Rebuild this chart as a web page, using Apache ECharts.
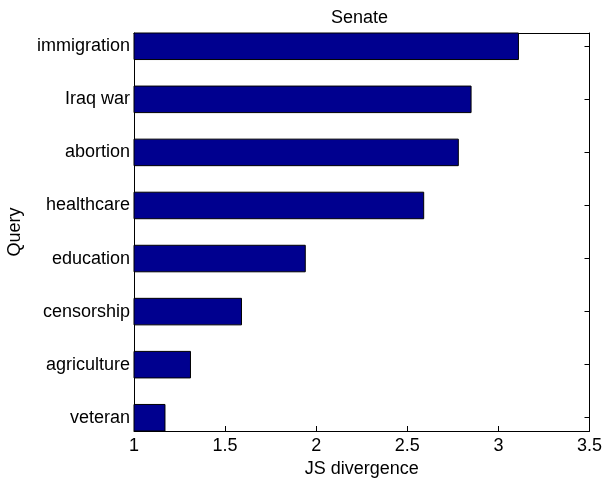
<!DOCTYPE html>
<html>
<head>
<meta charset="utf-8">
<script src="https://cdn.jsdelivr.net/npm/echarts@6/dist/echarts.min.js"></script>
<style>
html,body{margin:0;padding:0;background:#fff;}
#chart{width:604px;height:479px;}
</style>
</head>
<body>
<div id="chart"></div>
<script>
// Categories listed top to bottom
const categories = ['immigration', 'Iraq war', 'abortion', 'healthcare', 'education', 'censorship', 'agriculture', 'veteran'];
const values = [3.11, 2.85, 2.78, 2.59, 1.94, 1.59, 1.31, 1.17];
const xTicks = [1, 1.5, 2, 2.5, 3, 3.5];

const n = categories.length;
// position: bottom category at 1, top at n
const data = categories.map((c, i) => [values[i], n - i]);
const yPositions = categories.map((c, i) => n - i);
function labelFor(v) {
  const idx = n - Math.round(v);
  return categories[idx] !== undefined ? categories[idx] : '';
}

const FONT = 'Liberation Sans, Arial, Helvetica, sans-serif';
const chart = echarts.init(document.getElementById('chart'), null, {renderer: 'canvas'});
const axisCommon = {
  axisLine: {show: true, lineStyle: {color: '#000', width: 1}},
  splitLine: {show: false}
};
chart.setOption({
  animation: false,
  backgroundColor: '#fff',
  title: {
    text: 'Senate',
    left: 326, top: 4,
    textStyle: {fontFamily: FONT, fontSize: 18, fontWeight: 'normal', color: '#000'}
  },
  grid: {left: 134, right: 14.5, top: 33, bottom: 48, containLabel: false, outerBoundsMode: 'none'},
  xAxis: [{
    type: 'value', position: 'bottom', min: xTicks[0], max: xTicks[xTicks.length - 1], interval: 0.5,
    ...axisCommon,
    axisTick: {show: true, inside: true, length: 5, lineStyle: {color: '#000'}},
    axisLabel: {show: true, margin: 6, color: '#000', fontFamily: FONT, fontSize: 18,
      formatter: v => String(v)},
    name: 'JS divergence', nameLocation: 'middle', nameGap: 24,
    nameTextStyle: {fontFamily: FONT, fontSize: 18, color: '#000'}
  }, {
    type: 'value', position: 'top', min: xTicks[0], max: xTicks[xTicks.length - 1], interval: 0.5,
    ...axisCommon,
    axisTick: {show: true, inside: true, length: 5, lineStyle: {color: '#000'}},
    axisLabel: {show: false}
  }],
  yAxis: [{
    type: 'value', position: 'left', min: 0.75, max: n + 0.25,
    ...axisCommon,
    axisTick: {show: true, inside: true, length: 5, customValues: yPositions, lineStyle: {color: '#000'}},
    axisLabel: {show: true, margin: 4, color: '#000', fontFamily: FONT, fontSize: 18,
      customValues: yPositions, formatter: v => labelFor(v)},
    name: 'Query', nameLocation: 'middle', nameGap: 110, nameRotate: 90,
    nameTextStyle: {fontFamily: FONT, fontSize: 18, color: '#000'}
  }, {
    type: 'value', position: 'right', min: 0.75, max: n + 0.25,
    ...axisCommon,
    axisTick: {show: true, inside: true, length: 5, customValues: yPositions, lineStyle: {color: '#000'}},
    axisLabel: {show: false}
  }],
  series: [{
    type: 'custom',
    xAxisIndex: 0, yAxisIndex: 0,
    encode: {x: 0, y: 1},
    data: data,
    z: 5,
    renderItem: function (params, api) {
      const v = api.value(0), y = api.value(1);
      const start = api.coord([xTicks[0], y]);
      const end = api.coord([v, y]);
      const h = api.size([0, 0.5])[1];
      return {
        type: 'rect',
        shape: {x: start[0], y: start[1] - h / 2, width: end[0] - start[0], height: h},
        style: {fill: '#00008F', stroke: '#000', lineWidth: 1}
      };
    }
  }]
});
</script>
</body>
</html>
